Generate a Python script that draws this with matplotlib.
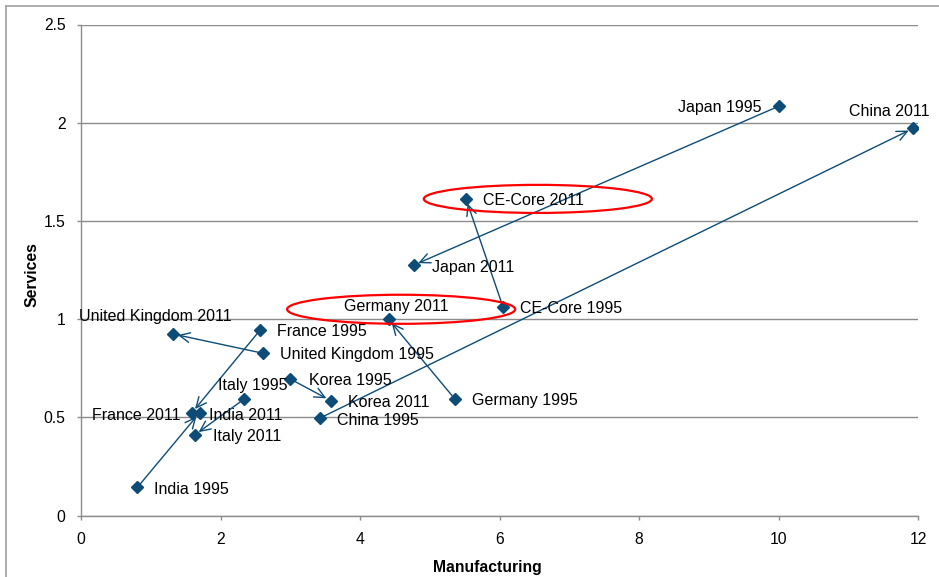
import matplotlib
matplotlib.use("Agg")
import matplotlib.pyplot as plt
from matplotlib.patches import Ellipse
from matplotlib.lines import Line2D

plt.rcParams['font.family'] = ['Liberation Sans', 'DejaVu Sans']

# Services vs manufacturing, 1995 and 2011
countries = ["Japan", "China", "CE-Core", "Germany", "France",
             "United Kingdom", "Korea", "Italy", "India"]
manuf_1995 = [10.01, 3.42, 6.05, 5.36, 2.57, 2.61, 3.00, 2.34, 0.81]
serv_1995 = [2.085, 0.495, 1.062, 0.593, 0.945, 0.826, 0.695, 0.593, 0.144]
manuf_2011 = [4.77, 11.93, 5.52, 4.41, 1.59, 1.32, 3.58, 1.63, 1.70]
serv_2011 = [1.275, 1.971, 1.612, 0.999, 0.523, 0.924, 0.585, 0.410, 0.523]
years = ["1995", "2011"]

x_ticks = [0, 2, 4, 6, 8, 10, 12]
y_ticks = [0, 0.5, 1, 1.5, 2, 2.5]

BLUE = "#0E4C78"

# label placement: (dx, dy) in points, horizontal alignment
label_pos_1995 = {
    "Japan": (-13, -1.2, "right"),
    "China": (12.5, -1.7, "left"),
    "CE-Core": (12.5, -0.8, "left"),
    "Germany": (12.5, -0.8, "left"),
    "France": (12.2, -1.2, "left"),
    "United Kingdom": (12.2, -1.2, "left"),
    "Korea": (13.5, -1.4, "left"),
    "Italy": (5.8, 10, "center"),
    "India": (12.2, -2, "left"),
}
label_pos_2011 = {
    "Japan": (13, -1.4, "left"),
    "China": (-17, 12, "center"),
    "CE-Core": (12.2, -0.8, "left"),
    "Germany": (5.8, 9, "center"),
    "France": (-8.5, -1.6, "right"),
    "United Kingdom": (-12.8, 12.5, "center"),
    "Korea": (12.2, -1.4, "left"),
    "Italy": (13.5, -0.8, "left"),
    "India": (6.5, -1.6, "left"),
}

fig = plt.figure(figsize=(9.39, 5.77), dpi=100)
ax = fig.add_axes([81 / 939, 61.5 / 577, 837 / 939, 491 / 577])

ax.set_xlim(0, 12)
ax.set_ylim(0, 2.5)
ax.set_xticks(x_ticks)
ax.set_yticks(y_ticks)
ax.set_xticklabels([str(t) for t in x_ticks])
ax.set_yticklabels([f"{t:g}" for t in y_ticks])
ax.grid(axis="y", color="#8C8C8C", linewidth=1.0)
ax.set_axisbelow(True)
for side in ("top", "right"):
    ax.spines[side].set_visible(False)
for side in ("left", "bottom"):
    ax.spines[side].set_color("#8C8C8C")
    ax.spines[side].set_linewidth(1.0)
ax.tick_params(axis="both", colors="#8C8C8C", labelcolor="black",
               labelsize=11.3, length=3, width=1.0, direction="out", pad=8)
ax.tick_params(axis="x", pad=9)

# arrows from 1995 to 2011
for i in range(len(countries)):
    ax.annotate("", xy=(manuf_2011[i], serv_2011[i]),
                xytext=(manuf_1995[i], serv_1995[i]),
                arrowprops=dict(arrowstyle="->,head_length=0.75,head_width=0.35",
                                color=BLUE, lw=1.0, shrinkA=0, shrinkB=3.5),
                zorder=2)

ax.plot(manuf_1995, serv_1995, "D", color=BLUE, markersize=6.5, zorder=3,
        linestyle="none")
ax.plot(manuf_2011, serv_2011, "D", color=BLUE, markersize=6.5, zorder=3,
        linestyle="none")

for i, c in enumerate(countries):
    for (xv, yv, pos, yr) in ((manuf_1995[i], serv_1995[i], label_pos_1995[c], years[0]),
                              (manuf_2011[i], serv_2011[i], label_pos_2011[c], years[1])):
        dx, dy, ha = pos
        ax.annotate(f"{c} {yr}", xy=(xv, yv), xytext=(dx, dy),
                    textcoords="offset points", ha=ha, va="center",
                    fontsize=11.5, color="black", zorder=4)

# highlight rings
ax.add_patch(Ellipse((6.55, 1.612), 3.27, 0.143, fill=False,
                     edgecolor="red", linewidth=1.6, zorder=5))
ax.add_patch(Ellipse((4.59, 1.05), 3.27, 0.148, fill=False,
                     edgecolor="red", linewidth=1.6, zorder=5))

ax.set_xlabel("Manufacturing", fontsize=11.3, fontweight="bold")
ax.set_ylabel("Services", fontsize=11.3, fontweight="bold")
ax.xaxis.set_label_coords(0.485, -0.105)
ax.yaxis.set_label_coords(-0.0585, 0.49)
ax.xaxis.label.set_va("center")
ax.yaxis.label.set_va("center")

# outer frame (top and left edges of the chart area)
fx = 5.5 / 939
fy = 1 - 5.5 / 577
fig.add_artist(Line2D([fx, fx], [0, fy], transform=fig.transFigure,
                      color="#A0A0A0", linewidth=1.2))
fig.add_artist(Line2D([fx, 1], [fy, fy], transform=fig.transFigure,
                      color="#A0A0A0", linewidth=1.2))

fig.savefig("out.png", dpi=100)
